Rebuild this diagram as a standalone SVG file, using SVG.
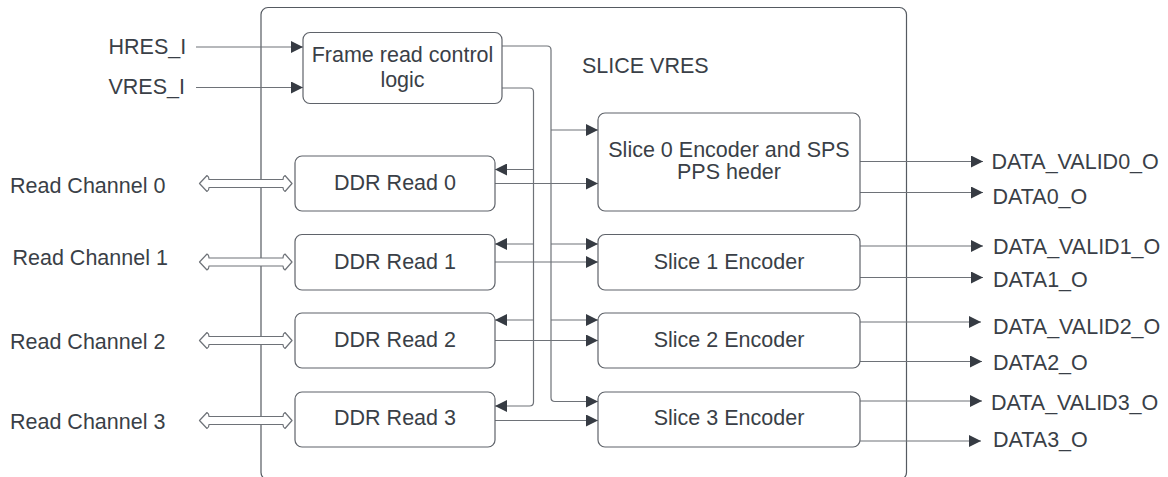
<svg xmlns="http://www.w3.org/2000/svg" width="1168" height="477" viewBox="0 0 1168 477">
<style>
text{font-family:"Liberation Sans",Arial,sans-serif;font-size:21.5px;fill:#3a3f47}
.c{text-anchor:middle}
.box{fill:#ffffff;stroke:#5f636a;stroke-width:1.2}
.ln{fill:none;stroke:#6e7278;stroke-width:1.2}
.hol{fill:#ffffff;stroke:#6e7278;stroke-width:1.2;stroke-linejoin:round}
</style>
<defs>
<marker id="ah" markerWidth="13" markerHeight="12" refX="12" refY="6" orient="auto" markerUnits="userSpaceOnUse">
<path d="M0,0 L12,6 L0,12 Z" fill="#363b43"/>
</marker>
</defs>
<rect width="1168" height="477" fill="#ffffff"/>
<g id="container">
<rect x="261" y="7.5" width="645.5" height="472" rx="7" fill="none" stroke="#555a61" stroke-width="1.2"/>
<text x="582" y="72.5">SLICE VRES</text>
</g>
<g id="inputs">
<text x="108.5" y="53.5">HRES_I</text>
<text x="108.5" y="94">VRES_I</text>
<text x="10" y="192.5">Read Channel 0</text>
<text x="12.5" y="265">Read Channel 1</text>
<text x="10" y="348.5">Read Channel 2</text>
<text x="10" y="428.5">Read Channel 3</text>
</g>
<g id="connectors">
<path class="ln" d="M196,47 H303" marker-end="url(#ah)"/>
<path class="ln" d="M196,87.5 H303" marker-end="url(#ah)"/>
<path class="hol" d="M199.5,183.5 L207,175.5 Q209,176.5 209,179.5 L283,179.5 Q283,176.5 285,175.5 L292,183.5 L285,191.5 Q283,190.5 283,187.5 L209,187.5 Q209,190.5 207,191.5 Z"/>
<path class="hol" d="M199.5,262 L207,254 Q209,255 209,258 L283,258 Q283,255 285,254 L292,262 L285,270 Q283,269 283,266 L209,266 Q209,269 207,270 Z"/>
<path class="hol" d="M199.5,340.5 L207,332.5 Q209,333.5 209,336.5 L283,336.5 Q283,333.5 285,332.5 L292,340.5 L285,348.5 Q283,347.5 283,344.5 L209,344.5 Q209,347.5 207,348.5 Z"/>
<path class="hol" d="M199.5,420.5 L207,412.5 Q209,413.5 209,416.5 L283,416.5 Q283,413.5 285,412.5 L292,420.5 L285,428.5 Q283,427.5 283,424.5 L209,424.5 Q209,427.5 207,428.5 Z"/>
<path class="ln" d="M502,46 H547 Q551,46 551,50 V397.5 Q551,401.5 555,401.5 H598" marker-end="url(#ah)"/>
<path class="ln" d="M551,130 H598" marker-end="url(#ah)"/>
<path class="ln" d="M551,244 H598" marker-end="url(#ah)"/>
<path class="ln" d="M551,320 H598" marker-end="url(#ah)"/>
<path class="ln" d="M502,88 H529.5 Q533.5,88 533.5,92 V402 Q533.5,406 529.5,406 H495" marker-end="url(#ah)"/>
<path class="ln" d="M533.5,169.5 H495" marker-end="url(#ah)"/>
<path class="ln" d="M533.5,244 H495" marker-end="url(#ah)"/>
<path class="ln" d="M533.5,320 H495" marker-end="url(#ah)"/>
<path class="ln" d="M495,183.5 H598" marker-end="url(#ah)"/>
<path class="ln" d="M495,262 H598" marker-end="url(#ah)"/>
<path class="ln" d="M495,340.5 H598" marker-end="url(#ah)"/>
<path class="ln" d="M495,420.5 H598" marker-end="url(#ah)"/>
<path class="ln" d="M860,161.5 H983" marker-end="url(#ah)"/>
<path class="ln" d="M860,192.5 H983" marker-end="url(#ah)"/>
<path class="ln" d="M860,246 H983" marker-end="url(#ah)"/>
<path class="ln" d="M860,277.5 H983" marker-end="url(#ah)"/>
<path class="ln" d="M860,322 H981" marker-end="url(#ah)"/>
<path class="ln" d="M860,361.5 H982" marker-end="url(#ah)"/>
<path class="ln" d="M860,401 H982" marker-end="url(#ah)"/>
<path class="ln" d="M860,441 H981" marker-end="url(#ah)"/>
</g>
<g id="frame-read-control">
<rect class="box" x="303" y="32.5" width="199" height="71" rx="7"/>
<text class="c" x="402.5" y="62">Frame read control</text>
<text class="c" x="402.5" y="86.5">logic</text>
</g>
<g id="ddr-read-0">
<rect class="box" x="295" y="156" width="200" height="55" rx="7"/>
<text class="c" x="395" y="189.5">DDR Read 0</text>
</g>
<g id="ddr-read-1">
<rect class="box" x="295" y="234.5" width="200" height="55.5" rx="7"/>
<text class="c" x="395" y="268.5">DDR Read 1</text>
</g>
<g id="ddr-read-2">
<rect class="box" x="295" y="313" width="200" height="55" rx="7"/>
<text class="c" x="395" y="346.5">DDR Read 2</text>
</g>
<g id="ddr-read-3">
<rect class="box" x="295" y="392" width="200" height="55" rx="7"/>
<text class="c" x="395" y="425">DDR Read 3</text>
</g>
<g id="slice-0">
<rect class="box" x="598" y="113" width="262" height="98" rx="7"/>
<text class="c" x="729" y="156.5">Slice 0 Encoder and SPS</text>
<text class="c" x="729" y="178.5">PPS heder</text>
</g>
<g id="slice-1">
<rect class="box" x="598" y="234.5" width="262" height="55.5" rx="7"/>
<text class="c" x="729" y="268.5">Slice 1 Encoder</text>
</g>
<g id="slice-2">
<rect class="box" x="598" y="313" width="262" height="55" rx="7"/>
<text class="c" x="729" y="346.5">Slice 2 Encoder</text>
</g>
<g id="slice-3">
<rect class="box" x="598" y="392" width="262" height="55" rx="7"/>
<text class="c" x="729" y="425">Slice 3 Encoder</text>
</g>
<g id="outputs">
<text x="991.5" y="168.5">DATA_VALID0_O</text>
<text x="992.5" y="203.5">DATA0_O</text>
<text x="993" y="253.5">DATA_VALID1_O</text>
<text x="993" y="286.5">DATA1_O</text>
<text x="993" y="333.5">DATA_VALID2_O</text>
<text x="993" y="370">DATA2_O</text>
<text x="991" y="410">DATA_VALID3_O</text>
<text x="993" y="446.5">DATA3_O</text>
</g>
</svg>
